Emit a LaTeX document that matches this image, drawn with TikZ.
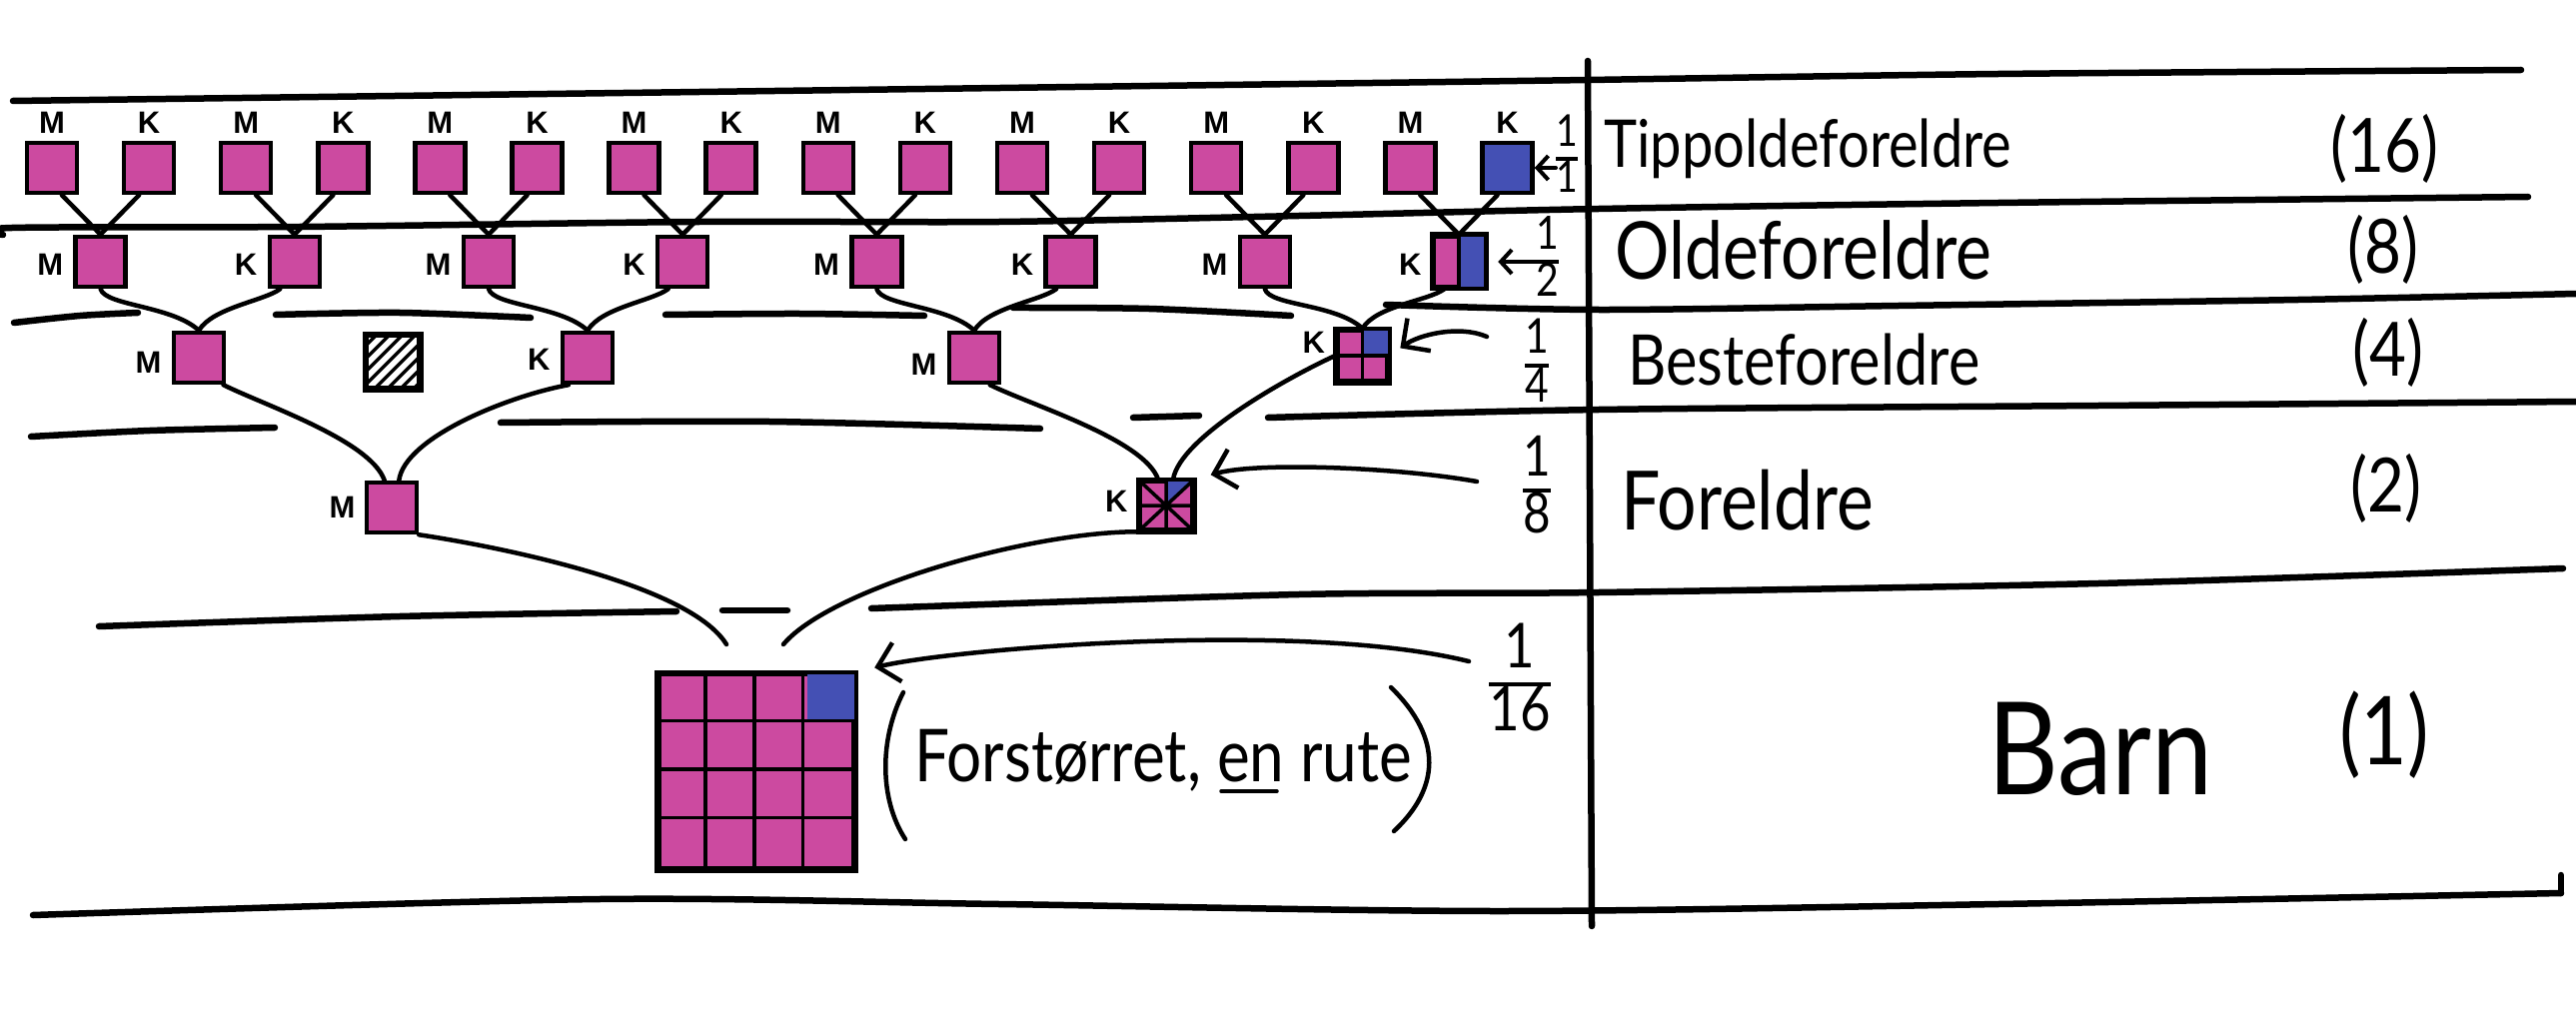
\documentclass[tikz,border=0pt]{standalone}
\usepackage{fontspec}
\setmainfont{Lato}
\newfontfamily\hand{Lato}[FakeStretch=0.85]
\newfontfamily\labfont{Liberation Sans}
\usetikzlibrary{arrows.meta,calc}
\definecolor{mag}{HTML}{CC4AA0}
\definecolor{blu}{HTML}{4450B4}
\newcommand\hfr[2]{{\setlength\arrayrulewidth{3.5pt}\renewcommand\arraystretch{0.72}\begin{tabular}{@{}c@{}}#1\\\hline #2\end{tabular}}}
\begin{document}
\begin{tikzpicture}[x=1pt,y=-1pt,
  box/.style={draw, line width=4.5pt, fill=mag, minimum width=50pt, minimum height=50pt, inner sep=0pt},
  lab/.style={font=\labfont\bfseries\fontsize{31}{33}\selectfont, inner sep=0pt},
  link/.style={line width=4.5pt, line cap=round},
  rule/.style={line width=6.5pt, line cap=round, line join=round},
  thin/.style={line width=3.5pt},
  arrS/.style={line width=4pt, line cap=round, -{Straight Barb[length=11pt,width=24pt]}},
  arrL/.style={line width=4.5pt, line cap=round, -{Straight Barb[length=20pt,width=40pt]}},
  txt/.style={anchor=base west, inner sep=0pt}
]
\useasboundingbox (0,0) rectangle (2578,1016);

% ---------- divider lines ----------
\draw[rule] plot[smooth] coordinates {(13,101) (700,92) (1300,84) (1589,80) (2000,74) (2523,70)};
\draw[rule] plot[smooth] coordinates {(3,235) (12,228) (300,227) (700,222) (1000,222) (1300,216) (1600,209) (2000,203) (2530,197)};
\draw[rule] plot[smooth] coordinates {(14,323) (80,316) (138,313)};
\draw[rule] plot[smooth] coordinates {(276,315) (400,313) (531,318)};
\draw[rule] plot[smooth] coordinates {(666,315) (800,314) (925,316)};
\draw[rule] plot[smooth] coordinates {(1014,308) (1150,309) (1292,316)};
\draw[rule] plot[smooth] coordinates {(1387,305) (1600,310) (1900,306) (2300,300) (2578,294)};
\draw[rule] plot[smooth] coordinates {(31,437) (150,431) (275,428)};
\draw[rule] plot[smooth] coordinates {(501,423) (770,422) (1041,429)};
\draw[rule] plot[smooth] coordinates {(1134,418) (1200,416)};
\draw[rule] plot[smooth] coordinates {(1269,418) (1600,410) (2100,406) (2578,402)};
\draw[rule] plot[smooth] coordinates {(99,627) (400,617) (677,612)};
\draw[rule] plot[smooth] coordinates {(723,611) (788,611)};
\draw[rule] plot[smooth] coordinates {(872,609) (1300,595) (1600,593) (2100,584) (2565,569)};
\draw[rule] plot[smooth] coordinates {(33,916) (600,900) (1000,905) (1500,912) (2000,905) (2563,894)};
\draw[rule] (2563,894) -- (2563,876);
\draw[rule] (1589,61) -- (1593,927);

% ---------- row 1: Tippoldeforeldre ----------
\foreach \i in {1,...,15} {
  \pgfmathsetmacro\xx{52+97.1*(\i-1)}
  \node[box] (t\i) at (\xx,168) {};
}
\node[box, fill=blu] (t16) at (1508.5,168) {};
\foreach \i in {1,3,...,15} {
  \pgfmathtruncatemacro\k{\i+1}
  \node[lab, above=7pt] (lt\i) at (t\i.north) {M};
  \node[lab, above=7pt] (lt\k) at (t\k.north) {K};
}

% ---------- row 2: Oldeforeldre ----------
\foreach \j in {1,...,8} {
  \pgfmathsetmacro\xx{100.6+194.2*(\j-1)}
  \node[box] (o\j) at (\xx,262) {};
}
\fill[blu] (o8.north) rectangle (o8.south east);
\draw[thin] (o8.north) -- (o8.south);
\draw[line width=4.5pt] (o8.north west) rectangle (o8.south east);
\foreach \j in {1,3,5,7} {
  \pgfmathtruncatemacro\k{\j+1}
  \node[lab, left=10pt] (lo\j) at ([yshift=-3pt]o\j.west) {M};
  \node[lab, left=10pt] (lo\k) at ([yshift=-3pt]o\k.west) {K};
}
\foreach \j in {1,...,8} {
  \pgfmathtruncatemacro\a{2*\j-1}
  \pgfmathtruncatemacro\b{2*\j}
  \draw[link] (t\a.-70) -- (o\j.north);
  \draw[link] (t\b.-110) -- (o\j.north);
}

% ---------- row 3: Besteforeldre ----------
\node[box] (b1) at (199,358) {};
\node[box] (b2) at (588,358) {};
\node[box] (b3) at (975,358) {};
\node[box] (b4) at (1363.5,356) {};
\fill[blu] (b4.north) rectangle (b4.east);
\draw[thin] (b4.north) -- (b4.south) (b4.west) -- (b4.east);
\draw[line width=4.5pt] (b4.north west) rectangle (b4.south east);
\node[lab, left=10pt] (lb1) at ([yshift=-5pt]b1.west) {M};
\node[lab, left=10pt] (lb2) at ([yshift=-2pt]b2.west) {K};
\node[lab, left=10pt] (lb3) at ([yshift=-7pt]b3.west) {M};
\node[lab, left=10pt] (lb4) at ([yshift=13pt]b4.west) {K};

% hatched (unknown) square
\node[draw, line width=4.5pt, fill=white, minimum width=52pt, minimum height=52pt, inner sep=0pt] (hb) at (393,362) {};
\begin{scope}
  \clip (hb.south west) rectangle (hb.north east);
  \foreach \d in {-56,-43,...,56}
    \draw[line width=3.5pt] ($(hb.south west)+(\d,0)$) -- ++(60,-60);
\end{scope}
\draw[line width=4.5pt] (hb.south west) rectangle (hb.north east);

\foreach \k in {1,...,4} {
  \pgfmathtruncatemacro\a{2*\k-1}
  \pgfmathtruncatemacro\b{2*\k}
  \draw[link] (o\a.south) .. controls +(5,17) and +(-27,-25) .. (b\k.north);
  \draw[link] (o\b.-118) .. controls +(-16,12) and +(14,-23) .. (b\k.north);
}

% ---------- row 4: Foreldre ----------
\node[box] (p1) at (392,508) {};
\node[box, minimum width=52pt, minimum height=48pt] (p2) at (1167,506) {};
\fill[blu] (p2.center) -- (p2.north) -- (p2.north east) -- cycle;
\draw[thin] (p2.north) -- (p2.south) (p2.west) -- (p2.east)
            (p2.north west) -- (p2.south east) (p2.north east) -- (p2.south west);
\draw[line width=4.5pt] (p2.north west) rectangle (p2.south east);
\node[lab, left=9pt] (lp1) at (p1.west) {M};
\node[lab, left=10pt] (lp2) at ([yshift=4pt]p2.west) {K};

\draw[link] (b1.-48) .. controls +(40,20) and +(-14,-40) .. (p1.105);
\draw[link] (b2.-125) .. controls +(-60,11) and +(6,-43) .. (p1.75);
\draw[link] (b3.-60) .. controls +(40,20) and +(-14,-40) .. (p2.107);
\draw[link] (b4.west) .. controls +(-48,22) and +(7,-42) .. (p2.75);

% ---------- row 5: Barn (enlarged square) ----------
\node[box, minimum width=195pt, minimum height=194pt] (barn) at (757,772) {};
\fill[blu] ($(barn.north east)+(-48.75,0)$) rectangle ($(barn.north east)+(0,48.5)$);
\foreach \k in {1,2,3} {
  \draw[thin] ($(barn.north west)+(48.75*\k,0)$) -- ($(barn.south west)+(48.75*\k,0)$);
  \draw[thin] ($(barn.north west)+(0,48.5*\k)$) -- ($(barn.north east)+(0,48.5*\k)$);
}
\draw[line width=4.5pt] (barn.north west) rectangle (barn.south east);

\coordinate (cL) at (727,645);
\coordinate (cR) at (784,645);
\draw[link] (p1.south east) .. controls +(80,12) and +(-37,-60) .. (cL);
\draw[link] (p2.south west) .. controls +(-111,0) and +(46,-55) .. (cR);

% ---------- enlarged-square note ----------
\draw[line width=4.5pt, line cap=round] (904,693) .. controls (880,740) and (880,800) .. (906,840);
\draw[line width=4.5pt, line cap=round] (1392,688) .. controls (1445,740) and (1440,790) .. (1395,832);
\node[txt, font=\hand\fontsize{73}{80}\selectfont] (note) at (915,782) {Forstørret, en rute};
\draw[line width=3.5pt, line cap=round] (1222,792) -- (1278,792);

% ---------- fractions and arrows ----------
\node[font=\hand\fontsize{44}{48}\selectfont, inner sep=0pt] (fr1) at (1568,159) {\hfr{1}{1}};
\node[font=\hand\fontsize{46}{50}\selectfont, inner sep=0pt] (fr2) at (1549,262) {\hfr{1}{2}};
\node[font=\hand\fontsize{48}{52}\selectfont, inner sep=0pt] (fr4) at (1538,366) {\hfr{1}{4}};
\node[font=\hand\fontsize{56}{60}\selectfont, inner sep=0pt] (fr8) at (1538,491) {\hfr{1}{8}};
\node[font=\hand\fontsize{62}{66}\selectfont, inner sep=0pt] (fr16) at (1521,685) {\hfr{1}{16}};

\draw[arrS] (fr1.west |- t16.east) -- (t16.east);
\draw[arrS, shorten >=12pt] (fr2.west |- o8.east) -- (o8.east);
\coordinate (a4) at (1488,337);
\draw[arrL, shorten >=13pt] (a4) .. controls (1460,325) and (1420,335) .. (b4.east);
\coordinate (a8) at (1478,482);
\draw[arrL, shorten >=17pt] (a8) .. controls (1400,468) and (1260,462) .. (p2.north east);
\coordinate (a16) at (1470,662);
\draw[arrL, shorten >=19pt] (a16) .. controls (1300,620) and (950,650) .. (barn.north east);

% ---------- generation names and counts ----------
\node[txt, font=\hand\fontsize{66}{70}\selectfont] (g16) at (1605,168) {Tippoldeforeldre};
\node[txt, font=\hand\fontsize{80}{84}\selectfont] (g8) at (1616,280) {Oldeforeldre};
\node[txt, font=\hand\fontsize{70}{74}\selectfont] (g4) at (1629,385) {Besteforeldre};
\node[txt, font=\hand\fontsize{82}{86}\selectfont] (g2) at (1622,530) {Foreldre};
\node[txt, font=\hand\fontsize{129}{134}\selectfont] (g1) at (1989,795) {Barn};

\node[font=\hand\fontsize{75}{80}\selectfont, inner sep=0pt] (n16) at (2386,149) {(16)};
\node[font=\hand\fontsize{75}{80}\selectfont, inner sep=0pt] (n8) at (2385,250) {(8)};
\node[font=\hand\fontsize{75}{80}\selectfont, inner sep=0pt] (n4) at (2390,353) {(4)};
\node[font=\hand\fontsize{75}{80}\selectfont, inner sep=0pt] (n2) at (2388,489) {(2)};
\node[font=\hand\fontsize{95}{100}\selectfont, inner sep=0pt] (n1) at (2386,736) {(1)};
\end{tikzpicture}
\end{document}
